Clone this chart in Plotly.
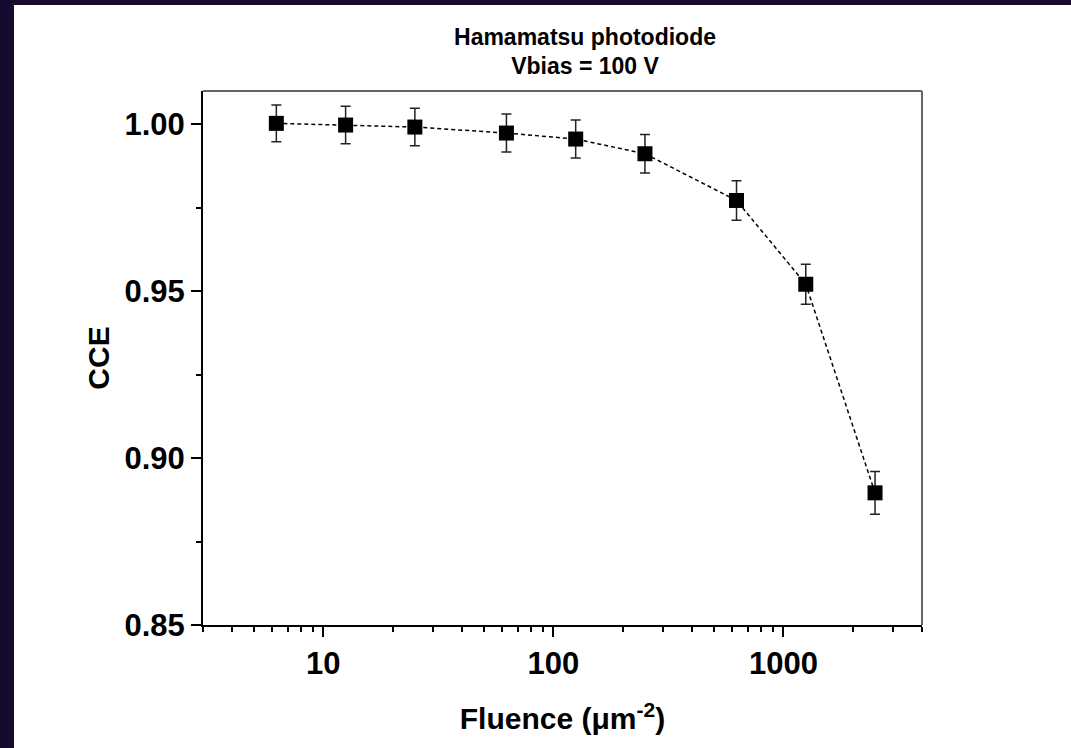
import numpy as np
import plotly.graph_objects as go

# Data
fluence = [6.25, 12.5, 25, 62.5, 125, 250, 625, 1250, 2500]
cce = [1.0003, 0.9998, 0.9992, 0.9974, 0.9956, 0.9912, 0.9772, 0.9521, 0.8896]
cce_err = [0.0055, 0.0056, 0.0056, 0.0057, 0.0057, 0.0058, 0.0059, 0.0060, 0.0064]

x_major = [10, 100, 1000]
x_minor = [3, 4, 5, 6, 7, 8, 9, 20, 30, 40, 50, 60, 70, 80, 90,
           200, 300, 400, 500, 600, 700, 800, 900, 2000, 3000, 4000]
y_major = [0.85, 0.90, 0.95, 1.00]
y_minor = [0.875, 0.925, 0.975]

FONT = "Liberation Sans, Arial, sans-serif"
NAVY = "#160a30"

fig = go.Figure()
fig.add_trace(go.Scatter(
    x=fluence, y=cce,
    mode="lines+markers",
    line=dict(color="black", width=1.5, dash="4px,3px"),
    marker=dict(symbol="square", size=15, color="black"),
    error_y=dict(type="data", array=cce_err, visible=True,
                 color="#222222", thickness=1.5, width=5),
    showlegend=False,
))

W, H = 1071, 748
ml, mr, mt, mb = 203, 149, 91, 123
pw, ph = W - ml - mr, H - mt - mb

# white page area (leaving a navy strip on left and top)
fig.add_shape(type="rect", xref="paper", yref="paper", layer="below",
              x0=(14 - ml) / pw, x1=(W + 20 - ml) / pw,
              y0=-(H - (H - mb) + 20) / ph, y1=((H - mb) - 5) / ph,
              fillcolor="white", line=dict(width=0))
# top and right frame lines (gray)
fig.add_shape(type="line", xref="paper", yref="paper", x0=0, x1=1, y0=1, y1=1,
              line=dict(color="#666666", width=2))
fig.add_shape(type="line", xref="paper", yref="paper", x0=1, x1=1, y0=0, y1=1,
              line=dict(color="#666666", width=2))

fig.update_layout(
    width=W, height=H,
    margin=dict(l=ml, r=mr, t=mt, b=mb, pad=0),
    paper_bgcolor=NAVY,
    plot_bgcolor="white",
    font=dict(family=FONT, color="black"),
    title=dict(text="Hamamatsu photodiode<br>Vbias = 100 V",
               font=dict(family=FONT, size=23, color="black", weight="bold"),
               xref="container", x=585 / W, xanchor="center",
               yref="container", y=1 - 44.5 / H, yanchor="top"),
    xaxis=dict(
        type="log",
        range=[np.log10(3), np.log10(4000)],
        tickmode="array", tickvals=x_major, ticktext=[str(v) for v in x_major],
        ticks="outside", ticklen=10, tickwidth=2, tickcolor="black",
        minor=dict(tickmode="array", tickvals=x_minor, ticks="outside",
                   ticklen=5, tickwidth=2, tickcolor="black", showgrid=False),
        showline=True, linecolor="black", linewidth=2,
        showgrid=False, zeroline=False,
        tickfont=dict(family=FONT, size=31, color="black", weight="bold"),
        title=dict(text="Fluence (\u03bcm<sup>-2</sup>)", standoff=28,
                   font=dict(family=FONT, size=30, color="black", weight="bold")),
    ),
    yaxis=dict(
        range=[0.85, 1.01],
        tickmode="array", tickvals=y_major, ticktext=[f"{v:.2f}" for v in y_major],
        ticks="outside", ticklen=10, tickwidth=2, tickcolor="black",
        minor=dict(tickmode="array", tickvals=y_minor, ticks="outside",
                   ticklen=5, tickwidth=2, tickcolor="black", showgrid=False),
        showline=True, linecolor="black", linewidth=2,
        showgrid=False, zeroline=False,
        tickfont=dict(family=FONT, size=31, color="black", weight="bold"),
        title=dict(text="CCE", standoff=6,
                   font=dict(family=FONT, size=30, color="black", weight="bold")),
    ),
)

fig.write_html("out.html")
